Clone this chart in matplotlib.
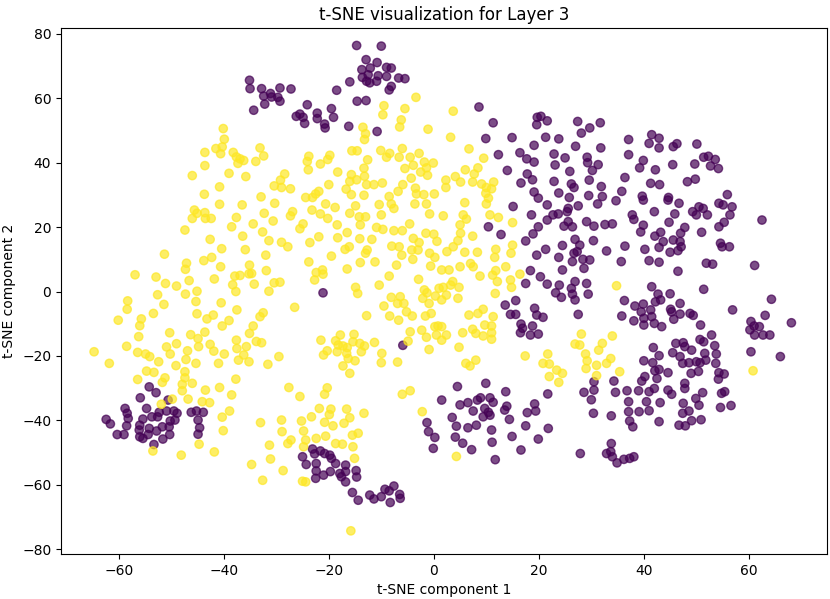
#!/usr/bin/env python3
"""
plot.py - t-SNE scatter of layer 3 embeddings, two classes (viridis colouring).
Writes out.png.
"""

import numpy as np
import matplotlib
matplotlib.use('Agg')
import matplotlib.pyplot as plt

TITLE = 't-SNE visualization for Layer 3'
XLABEL = 't-SNE component 1'
YLABEL = 't-SNE component 2'

# ── class 0 (dark purple) embeddings, (x, y) ────────────────────────────
class0_pts = [
    (-35.1, 65.6), (-35.0, 63.0), (-34.3, 56.3),
    (-14.7, 76.4), (-10.0, 76.2), (-12.9, 72.0), (-10.8, 71.1), (-13.7, 68.9), (-12.1, 69.4),
    (-9.0, 69.6), (-8.1, 69.4), (-13.6, 66.5), (-12.5, 67.3), (-10.6, 67.0), (-9.0, 66.8),
    (-12.8, 65.3), (-12.2, 64.8), (-10.9, 65.3), (-6.7, 66.3), (-5.5, 66.1), (-8.1, 63.7),
    (-8.5, 62.6), (-16.0, 65.1), (-18.5, 62.5), (-32.8, 63.0), (-31.1, 61.5), (-32.4, 60.7),
    (-30.9, 60.4), (-29.3, 63.2), (-29.7, 60.3), (-27.2, 62.9), (-29.3, 59.1), (-32.2, 58.2),
    (-24.1, 58.0), (-25.5, 55.1), (-24.9, 54.1), (-24.6, 52.2), (-22.2, 55.4), (-22.2, 53.7),
    (-20.8, 52.0), (-20.7, 50.8), (-19.5, 56.8), (-19.1, 54.1), (-16.2, 51.3), (-14.6, 59.1),
    (-12.9, 59.3), (-10.8, 49.7), (-26.2, 54.4),
    (8.6, 57.3), (11.3, 52.4), (9.9, 47.5), (14.9, 47.8), (19.6, 51.8), (20.4, 54.4),
    (21.6, 53.0), (19.7, 54.1), (27.4, 52.8), (31.7, 52.4), (29.7, 50.8), (28.1, 49.2),
    (21.3, 47.9), (23.8, 47.4), (19.1, 45.4), (27.0, 45.1), (31.8, 44.6), (37.1, 47.2),
    (12.3, 42.5), (16.4, 43.1), (17.7, 41.2), (19.1, 40.2), (22.9, 42.7), (25.0, 41.5),
    (23.1, 39.3), (29.2, 41.7), (29.3, 40.0), (31.3, 39.4), (30.2, 37.6), (25.9, 37.3),
    (14.0, 37.6), (17.8, 36.5), (16.6, 33.7), (18.8, 34.7), (22.9, 34.2), (29.6, 34.6),
    (26.2, 33.4), (26.7, 32.3), (31.9, 32.6), (36.4, 35.4), (37.1, 42.5), (19.1, 30.9),
    (19.9, 29.0), (23.8, 30.6), (25.8, 29.2), (29.5, 29.8), (32.1, 29.5), (35.8, 31.1),
    (41.5, 48.7), (42.9, 47.6), (41.0, 46.0), (42.9, 44.6), (45.6, 45.0), (46.3, 45.9),
    (50.1, 45.8), (51.4, 41.7), (52.3, 42.0), (53.6, 41.0), (52.7, 39.0), (54.2, 38.2),
    (49.7, 39.6), (45.5, 39.4), (39.9, 40.7), (39.2, 38.4), (42.2, 37.8), (41.3, 33.6),
    (43.0, 33.2), (48.3, 34.1), (49.8, 34.9), (39.7, 29.6), (44.7, 29.2), (55.9, 30.1),
    (-21.1, -0.4), (-5.9, -16.7),
    (15.1, 26.4), (21.6, 26.9), (25.6, 25.8), (27.5, 26.6), (31.2, 27.2), (34.7, 28.2),
    (18.6, 23.8), (21.6, 22.2), (22.7, 23.8), (23.7, 24.1), (25.4, 24.8), (25.6, 21.7),
    (24.8, 20.3), (26.4, 20.1), (29.1, 21.7), (30.5, 20.3), (32.6, 20.8), (34.0, 21.0),
    (10.4, 20.1), (12.8, 17.7), (17.5, 15.7), (18.9, 17.9), (19.9, 20.1), (21.3, 13.1),
    (19.6, 11.3), (24.5, 14.3), (26.9, 16.2), (27.8, 14.4), (27.3, 12.4), (26.7, 11.9),
    (30.4, 15.8), (32.9, 12.6), (36.4, 14.1), (23.8, 10.6), (26.4, 9.3), (28.4, 10.0),
    (29.7, 9.8), (28.6, 7.2), (35.7, 9.3), (24.5, 6.7), (18.4, 6.5), (20.3, 4.6),
    (17.5, 2.5), (21.6, 2.3), (23.9, 2.0), (26.9, 3.1), (26.2, 1.0), (29.1, 2.5),
    (29.4, -0.8), (23.2, -0.4), (24.3, -1.8), (26.4, -0.8), (26.9, -2.6), (15.6, -2.8),
    (13.6, -4.2), (14.6, -7.1), (15.6, -7.1), (19.2, -5.2), (19.6, -7.3), (20.8, -8.0),
    (27.5, -7.1), (16.6, -10.1), (16.9, -11.4), (16.5, -12.8), (18.8, -10.7), (18.4, -13.5),
    (19.9, -13.2), (36.3, -2.8), (35.8, -7.6),
    (37.8, 23.8), (38.1, 22.4), (39.9, 28.4), (44.6, 28.4), (46.7, 27.4), (50.5, 26.3),
    (51.3, 25.8), (49.3, 24.8), (50.0, 23.8), (52.1, 23.8), (54.3, 27.4), (55.1, 26.9),
    (56.8, 26.3), (56.4, 23.8), (42.0, 24.8), (45.9, 24.1), (44.8, 21.5), (39.9, 20.6),
    (39.4, 18.5), (43.2, 18.4), (42.1, 17.2), (43.7, 15.5), (47.0, 18.1), (47.8, 19.9),
    (45.6, 16.0), (46.9, 15.5), (47.1, 13.9), (42.9, 13.7), (46.5, 12.7), (45.0, 12.2),
    (40.2, 13.1), (51.0, 18.4), (54.3, 20.1), (55.3, 21.5), (62.5, 22.2), (54.6, 15.0),
    (54.9, 13.9), (56.3, 13.9), (41.0, 9.6), (42.9, 9.1), (51.9, 8.8), (53.1, 8.5),
    (61.1, 8.1), (46.5, 6.3), (41.5, 1.5), (51.4, 0.7), (42.7, -0.8), (45.0, -0.7),
    (64.3, -2.4), (38.3, -4.5), (39.9, -3.9), (39.5, -6.3), (41.3, -5.7), (42.2, -3.2),
    (43.2, -2.6), (40.0, -8.3), (41.5, -7.8), (38.1, -9.1), (40.0, -10.4), (42.0, -9.9),
    (43.4, -10.9), (45.1, -5.5), (46.9, -3.7), (45.3, -6.3), (46.9, -7.0), (45.7, -8.6),
    (48.8, -6.8), (49.4, -7.4), (50.8, -10.4), (56.9, -5.7), (63.1, -7.4), (68.1, -9.7),
    (60.4, -9.3), (61.0, -10.7), (62.0, -10.9), (60.2, -11.9), (61.1, -13.5), (62.7, -13.5),
    (64.0, -13.5), (60.4, -18.7), (66.0, -20.2), (52.9, -13.5), (50.7, -14.9), (51.4, -15.6),
    (53.5, -16.8), (53.8, -19.4), (51.6, -19.2), (51.8, -21.3), (50.7, -22.1), (53.7, -22.3),
    (46.1, -16.1), (47.5, -15.9), (47.8, -17.1), (49.1, -18.2), (45.5, -19.0), (46.9, -20.2),
    (47.4, -22.3), (48.6, -22.1), (50.0, -21.8), (41.8, -17.4), (42.9, -19.9), (40.0, -21.5),
    (41.7, -22.1), (42.1, -24.6), (42.9, -24.2), (44.6, -25.2), (49.0, -25.4), (50.4, -24.8),
    (54.3, -25.2), (55.3, -25.6),
    (-54.2, -29.6), (-52.9, -31.4), (-55.9, -33.0), (-50.6, -33.7), (-58.8, -36.3), (-54.7, -36.3),
    (-58.4, -37.8), (-58.2, -39.4), (-62.4, -39.7), (-61.6, -41.1), (-58.5, -41.7), (-60.3, -44.4),
    (-59.0, -44.4), (-55.4, -39.6), (-56.0, -41.5), (-56.1, -43.0), (-56.0, -45.1), (-55.4, -45.6),
    (-54.4, -44.4), (-54.2, -42.5), (-53.7, -38.9), (-52.6, -38.9), (-52.3, -37.5), (-50.9, -37.1),
    (-49.5, -37.1), (-48.9, -37.8), (-49.3, -39.9), (-50.2, -40.2), (-51.7, -42.0), (-50.4, -42.0),
    (-52.8, -43.3), (-50.3, -44.4), (-51.6, -45.8), (-53.3, -47.5), (-46.2, -37.5), (-45.2, -37.1),
    (-43.9, -37.5), (-44.9, -39.9), (-44.6, -42.3), (-44.9, -44.3),
    (-25.0, -51.3), (-23.1, -48.9), (-22.7, -50.4), (-21.6, -49.5), (-20.8, -50.3), (-19.8, -50.8),
    (-19.5, -51.8), (-24.3, -53.7), (-22.4, -53.4), (-18.7, -53.4), (-22.4, -55.7), (-22.5, -58.0),
    (-21.0, -57.0), (-19.7, -55.9), (-17.9, -56.5), (-16.8, -53.9), (-16.8, -55.9), (-14.8, -55.6),
    (-14.7, -57.6), (-17.6, -57.5), (-16.8, -59.1), (-15.5, -62.4), (-14.4, -64.8), (-12.2, -63.2),
    (-11.4, -64.4), (-10.0, -63.7), (-9.3, -61.4), (-8.5, -61.9), (-7.6, -60.4), (-8.3, -65.5),
    (-6.5, -63.0), (-6.4, -64.2), (-1.3, -40.7), (-1.0, -43.5), (0.2, -45.3), (-0.1, -48.7),
    (1.5, -33.7), (4.5, -29.5), (9.9, -28.5), (13.7, -31.1), (5.0, -35.2), (6.5, -34.5),
    (8.3, -33.7), (8.9, -33.0), (10.7, -33.0), (11.3, -34.4), (7.5, -37.1), (9.7, -36.3),
    (10.4, -37.5), (9.4, -38.9), (10.7, -38.4), (3.5, -39.1), (4.3, -41.8), (6.5, -42.3),
    (8.1, -41.5), (11.0, -43.0), (4.1, -45.2), (5.5, -47.1), (7.2, -49.1), (11.1, -46.8),
    (11.7, -52.2), (13.5, -36.8), (13.9, -35.6), (14.4, -39.7), (14.9, -45.0), (16.6, -49.2),
    (17.5, -41.7), (17.8, -37.6), (19.2, -34.9), (19.4, -37.1), (19.9, -45.8), (21.7, -31.8),
    (21.8, -42.5), (27.9, -50.3), (28.6, -31.3), (30.0, -33.6), (30.5, -30.6), (30.5, -28.0),
    (30.4, -37.8), (33.8, -38.6), (34.3, -27.8), (34.6, -31.3), (36.8, -30.8), (37.1, -34.2),
    (37.1, -37.3), (37.3, -40.2), (33.8, -47.2), (32.9, -50.3), (33.7, -49.7), (34.0, -51.3),
    (34.9, -53.2), (36.2, -52.1), (37.3, -51.8),
    (39.6, -27.8), (40.2, -26.4), (42.5, -27.0), (54.2, -27.2), (39.0, -30.8), (42.0, -30.1),
    (41.0, -31.1), (44.6, -30.6), (45.3, -31.9), (47.8, -28.5), (47.8, -30.1), (51.2, -31.4),
    (49.9, -33.2), (50.5, -35.3), (54.8, -31.6), (55.4, -31.1), (54.6, -36.0), (56.6, -35.4),
    (40.5, -34.2), (43.1, -34.5), (39.1, -37.3), (41.0, -37.0), (47.5, -34.7), (47.4, -37.8),
    (48.6, -37.1), (49.1, -40.1), (50.9, -39.8), (46.7, -41.5), (47.9, -41.7), (42.9, -40.4),
    (37.9, -42.0), (38.1, -51.3),
]

# ── class 1 (yellow) embeddings, (x, y) ─────────────────────────────────
class1_pts = [
    (-40.1, 50.6), (-39.9, 47.3), (-41.5, 44.4), (-40.3, 44.9), (-40.6, 42.8), (-43.6, 43.2),
    (-38.2, 43.2), (-37.6, 41.8), (-36.9, 41.2), (-36.2, 40.7), (-37.3, 39.8), (-43.6, 39.1),
    (-46.0, 36.0), (-39.0, 36.7), (-35.8, 35.7), (-40.8, 32.5), (-43.7, 30.2),
    (-3.4, 60.3), (-9.5, 57.7), (-5.5, 56.8), (-9.7, 54.9), (-6.2, 53.3), (-6.5, 51.1),
    (-1.1, 50.4), (-13.5, 51.0), (-13.0, 49.0), (-13.2, 47.2), (-33.1, 44.6), (-32.4, 42.1),
    (-33.9, 40.4), (-23.8, 42.0), (-24.1, 40.4), (-19.8, 42.3), (-20.2, 41.0), (-21.6, 39.6),
    (-23.9, 37.8), (-18.3, 37.1), (-28.4, 36.5), (-29.2, 34.6), (-30.4, 32.8), (-29.0, 32.3),
    (-27.3, 31.9), (-20.0, 33.2), (-32.9, 29.4), (-15.6, 43.7), (-14.6, 43.7), (-10.1, 43.8),
    (-8.4, 42.9), (-9.0, 41.7), (-6.6, 41.7), (-6.0, 44.4), (-4.5, 41.7), (-2.8, 42.9),
    (-3.9, 39.2), (-1.8, 40.2), (-0.1, 39.9), (-1.4, 38.4), (-2.5, 37.1), (-1.2, 36.1),
    (-5.5, 38.2), (-4.3, 35.2), (-12.6, 40.9), (-13.3, 38.3), (-15.7, 36.3), (-13.2, 35.8),
    (-14.7, 34.7), (-16.0, 34.2), (-12.8, 33.2), (-11.4, 33.2), (-9.8, 33.7), (-5.9, 33.2),
    (-6.8, 31.1), (-3.5, 32.1), (-3.3, 30.3), (-1.9, 30.1), (0.1, 30.3), (-16.7, 31.8),
    (-15.7, 30.1), (-21.9, 31.1), (-22.5, 30.3), (-23.1, 29.2), (-24.4, 29.2), (-13.3, 29.9),
    (-8.5, 29.5),
    (3.7, 56.0), (3.2, 47.9), (6.7, 44.3), (9.5, 41.4), (6.0, 37.8), (8.4, 38.4),
    (7.7, 36.5), (4.1, 35.7), (2.3, 34.6), (5.1, 34.0), (7.4, 34.0), (9.1, 33.4),
    (11.4, 34.0), (10.0, 32.3), (11.0, 31.9), (2.3, 32.3), (9.9, 30.5), (10.4, 29.0),
    (-45.6, 25.3), (-45.1, 24.3), (-43.6, 24.5), (-43.5, 22.7), (-42.4, 22.7), (-46.0, 22.7),
    (-40.8, 27.1), (-36.5, 26.9), (-37.6, 23.0), (-38.5, 20.1), (-47.4, 19.1), (-36.4, 17.2),
    (-42.6, 16.2), (-40.4, 13.3), (-35.9, 13.0), (-51.3, 11.6), (-43.8, 9.6), (-42.3, 10.6),
    (-47.1, 8.8), (-47.3, 6.9), (-40.6, 7.7), (-56.9, 5.2), (-52.9, 4.5), (-51.1, 2.5),
    (-49.0, 1.7), (-46.6, 3.4), (-41.8, 3.9), (-37.9, 4.8), (-36.9, 5.0), (-35.2, 5.5),
    (-38.3, 2.1), (-37.7, 0.0), (-45.1, 0.1), (-47.3, -0.8), (-52.6, -1.0), (-58.3, -2.9),
    (-58.4, -5.5), (-51.4, -4.0), (-45.3, -3.1), (-40.5, -3.5), (-37.5, -5.7), (-53.4, -6.8),
    (-45.1, -6.9), (-43.2, -8.5), (-42.0, -7.3), (-39.0, -9.0), (-60.1, -8.9), (-55.7, -8.5),
    (-56.0, -10.6), (-40.3, -10.7), (-43.6, -12.6), (-50.3, -12.8), (-46.3, -13.4), (-44.9, -14.6),
    (-56.2, -14.0), (-49.0, -16.2), (-44.8, -17.1), (-42.6, -16.4), (-41.9, -18.5), (-39.9, -19.4),
    (-50.9, -17.2), (-50.2, -19.4), (-46.9, -18.4), (-58.5, -17.0), (-64.7, -18.7), (-56.4, -18.9),
    (-54.9, -19.4), (-54.1, -20.2), (-52.4, -21.8), (-47.2, -21.1), (-45.3, -22.3), (-41.0, -22.3),
    (-49.1, -23.0), (-61.8, -22.3), (-54.7, -24.7), (-53.3, -25.1), (-47.4, -24.9), (-37.6, -15.1),
    (-37.5, -17.7), (-35.7, -17.1), (-36.2, -19.7), (-37.2, -21.3), (-35.2, -21.8), (-35.1, -13.0),
    (-30.3, 27.4), (-20.6, 27.2), (-18.8, 26.1), (-14.9, 26.6), (-10.4, 27.0), (-8.1, 27.2),
    (-7.6, 25.8), (-3.6, 27.2), (-1.4, 27.2), (-32.3, 24.3), (-30.6, 21.9), (-34.4, 21.0),
    (-27.3, 23.5), (-26.9, 24.8), (-23.2, 25.3), (-21.6, 24.1), (-20.2, 22.7), (-16.0, 24.3),
    (-14.2, 23.2), (-13.0, 23.2), (-14.0, 20.7), (-18.4, 20.7), (-10.0, 23.8), (-24.9, 21.0),
    (-25.5, 19.5), (-10.9, 19.9), (-9.7, 19.3), (-7.6, 18.9), (-6.0, 18.9), (-4.6, 21.0),
    (-0.8, 24.1), (-32.6, 18.5), (-31.4, 15.8), (-29.0, 15.3), (-27.8, 13.9), (-23.6, 15.2),
    (-21.9, 17.0), (-18.3, 16.7), (-16.5, 18.3), (-14.1, 16.4), (-11.8, 16.2), (-8.0, 14.1),
    (-6.6, 13.9), (-3.9, 16.5), (-1.5, 18.1), (0.0, 17.8), (-2.8, 15.2), (-4.2, 12.9),
    (-3.0, 12.9), (0.6, 15.6), (-0.8, 11.9), (0.2, 10.6), (-4.0, 10.0), (-6.1, 11.3),
    (-16.9, 13.1), (-16.1, 13.9), (-12.7, 12.9), (-13.0, 11.9), (-32.0, 11.3), (-19.5, 11.0),
    (-23.8, 9.2), (-14.0, 9.0), (-11.2, 9.2), (-7.1, 8.2), (-0.6, 7.9), (-35.1, 8.2),
    (-34.7, 5.6), (-31.9, 6.5), (-22.4, 5.9), (-21.2, 6.7), (-21.1, 5.4), (-22.7, 3.6),
    (-16.5, 7.0), (-8.5, 4.8), (-2.9, 3.8), (-34.2, 2.3), (-30.4, 2.7), (-29.3, 2.9),
    (-14.9, 1.3), (-14.5, -0.6), (-10.4, 2.0), (-1.8, 0.5), (-1.3, -0.4), (0.3, -1.4),
    (1.0, 1.0), (-2.1, -2.1), (-0.9, -3.7), (-31.4, 0.1), (-8.1, -1.8), (-6.4, -1.6),
    (-6.9, -3.7), (-5.7, -3.7), (-9.5, -4.5), (-5.2, -6.3), (-4.1, -7.6), (-8.4, -7.6),
    (-6.7, -8.9), (-1.6, -7.6), (-0.5, -6.8), (-26.5, -4.9), (-32.5, -6.6), (-33.1, -7.8),
    (-12.8, -7.5), (-34.4, -10.7), (-33.8, -15.5), (-32.8, -15.9), (-29.5, -20.2), (-31.6, -22.6),
    (-21.5, -15.1), (-20.3, -18.4), (-21.0, -19.7), (-18.7, -15.3), (-17.8, -13.5), (-18.2, -16.6),
    (-17.3, -16.9), (-16.5, -17.4), (-16.6, -19.2), (-18.4, -18.7), (-16.3, -20.8), (-15.2, -13.3),
    (-15.4, -15.6), (-14.1, -16.1), (-13.2, -16.9), (-13.8, -18.7), (-15.0, -21.5), (-17.3, -23.1),
    (-16.0, -25.4), (-11.3, -15.8), (-9.9, -19.2), (-10.0, -22.1), (-6.9, -21.9), (-4.9, -15.4),
    (-4.5, -12.5), (-2.3, -12.0), (-0.9, -18.0), (-1.4, -14.2), (0.2, -10.9), (0.8, -10.7),
    (0.5, -13.5),
    (5.9, 27.6), (10.0, 27.2), (1.8, 23.5), (5.6, 23.8), (6.2, 22.5), (10.7, 23.8),
    (12.3, 23.0), (15.0, 21.4), (5.0, 20.7), (5.1, 18.1), (7.4, 17.2), (4.6, 15.8),
    (3.7, 13.9), (2.5, 12.4), (5.9, 12.2), (8.3, 12.2), (11.8, 13.1), (11.6, 10.6),
    (14.7, 11.9), (15.0, 14.4), (7.0, 8.7), (7.5, 7.7), (5.0, 7.7), (2.9, 6.7),
    (1.5, 6.7), (11.8, 6.5), (13.7, 7.7), (11.2, 5.1), (12.1, 3.1), (8.8, 4.8),
    (16.4, 5.4), (14.6, 3.6), (14.8, 1.3), (3.6, 3.1), (3.2, 2.0), (4.8, 1.3),
    (1.8, 1.3), (11.7, -0.6), (2.4, -1.1), (1.5, -2.6), (4.6, -2.1), (9.4, -5.5),
    (8.4, -6.8), (6.7, -7.3), (11.3, -7.8), (9.7, -10.4), (11.0, -10.7), (7.4, -11.7),
    (8.0, -13.0), (9.4, -13.8), (11.0, -12.8), (11.0, -14.8), (5.5, -12.8), (2.4, -13.5),
    (1.5, -10.9), (1.5, -15.1), (4.8, -17.3), (6.1, -22.3), (6.9, -23.1), (8.0, -21.3),
    (17.4, -20.0), (21.7, -19.4), (20.8, -22.3), (22.0, -22.5), (23.4, -24.4), (24.5, -25.4),
    (28.1, -13.2), (26.9, -16.3), (27.8, -16.6), (32.1, -16.1), (34.0, -13.8), (31.4, -18.2),
    (28.9, -19.4), (29.2, -21.5), (31.0, -22.9), (32.9, -22.3), (33.7, -20.8), (29.0, -23.9),
    (35.4, -24.9), (34.8, 1.8), (60.8, -24.6),
    (-56.4, -27.3), (-51.7, -28.2), (-51.2, -26.8), (-47.4, -26.8), (-46.0, -28.5), (-47.9, -28.8),
    (-47.9, -30.8), (-43.5, -30.6), (-40.8, -29.8), (-37.7, -27.2), (-38.5, -32.1), (-49.8, -33.4),
    (-46.8, -33.4), (-44.1, -34.2), (-42.7, -34.5), (-51.9, -35.0), (-38.9, -37.1), (-40.3, -39.0),
    (-40.1, -43.2), (-44.7, -47.4), (-53.5, -49.5), (-48.1, -50.8), (-41.8, -49.8),
    (-27.6, -29.8), (-20.3, -29.9), (-20.8, -31.9), (-25.5, -32.6), (-6.0, -31.9), (-4.5, -30.8),
    (-21.8, -36.3), (-19.6, -36.5), (-16.6, -36.5), (-13.3, -37.8), (-23.3, -38.9), (-19.9, -38.2),
    (-16.0, -39.2), (-29.0, -39.9), (-33.0, -40.7), (-25.2, -40.2), (-20.8, -40.6), (-19.2, -41.7),
    (-17.1, -40.9), (-28.9, -43.5), (-24.8, -43.3), (-2.2, -37.3), (-27.2, -46.1), (-27.8, -47.2),
    (-24.4, -46.1), (-22.4, -45.6), (-20.6, -44.9), (-15.5, -44.6), (-14.4, -44.0), (-18.7, -47.2),
    (-17.4, -47.4), (-15.4, -48.2), (-31.3, -47.7), (-24.8, -48.2), (-31.1, -52.0), (-34.7, -53.7),
    (-28.7, -55.6), (-32.6, -58.6), (-15.1, -51.8), (-25.0, -58.9), (-24.4, -59.1), (-15.8, -74.3),
    (22.0, -26.4), (23.8, -28.2), (31.0, -26.1), (4.3, -51.2),
]

# ── stack into one embedding + label vector, like the raw t-SNE output ──
emb = np.array(class0_pts + class1_pts)
labels = np.array([0] * len(class0_pts) + [1] * len(class1_pts))

fig = plt.figure(figsize=(8.30, 5.99), dpi=100)
ax = fig.add_axes([0.0735, 0.0751, 0.923, 0.878])

ax.scatter(emb[:, 0], emb[:, 1], c=labels, cmap='viridis', alpha=0.7)

ax.set_xlim(-71.0, 74.9)
ax.set_ylim(-81.5, 81.8)
ax.set_title(TITLE)
ax.set_xlabel(XLABEL)
ax.set_ylabel(YLABEL)

fig.savefig('out.png', dpi=100)
